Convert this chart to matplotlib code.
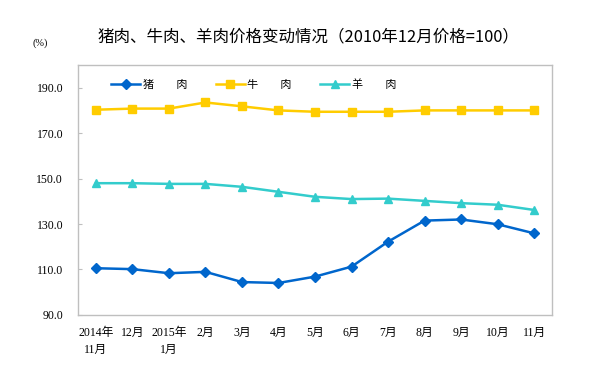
import numpy as np
import matplotlib.pyplot as plt

# 月份标签
months = ["2014年\n11月", "12月", "2015年\n1月", "2月", "3月", "4月", "5月",
          "6月", "7月", "8月", "9月", "10月", "11月"]

pork = [110.5, 110.1, 108.3, 108.9, 104.4, 104.0, 106.8, 111.2, 122.2, 131.5, 132.0, 129.9, 125.9]
beef = [180.4, 180.9, 180.9, 183.6, 181.9, 180.1, 179.5, 179.5, 179.5, 180.1, 180.1, 180.1, 180.1]
lamb = [148.0, 148.0, 147.7, 147.7, 146.4, 144.2, 142.0, 141.0, 141.2, 140.2, 139.2, 138.5, 136.2]

yticks = [90, 110, 130, 150, 170, 190]

cjk = ['Noto Sans CJK SC', 'DejaVu Sans']
serif = ['Liberation Serif', 'Noto Sans CJK SC']

fig = plt.figure(figsize=(6.09, 3.8), dpi=100)
ax = fig.add_axes([0.1276, 0.1718, 0.7793, 0.6564])

x = np.arange(len(months))
ax.plot(x, pork, color='#0066CC', lw=1.8, marker='D', ms=5, label='猪　　肉')
ax.plot(x, beef, color='#FFCC00', lw=1.8, marker='s', ms=6, label='牛　　肉')
ax.plot(x, lamb, color='#33CCCC', lw=1.8, marker='^', ms=6, label='羊　　肉')

ax.set_xlim(-0.5, len(months) - 0.5)
ax.set_ylim(90, 200)
ax.set_yticks(yticks)
ax.set_yticklabels([f"{v:.1f}" for v in yticks], family=serif, fontsize=8.5)
ax.set_xticks(x)
ax.set_xticklabels(months, family=serif, fontsize=8.5, linespacing=1.5)
ax.tick_params(axis='y', direction='in', length=3, width=0.8, color='#BFBFBF', pad=10.5)
ax.tick_params(axis='x', length=0, pad=9)

for s in ax.spines.values():
    s.set_color('#BFBFBF')
    s.set_linewidth(1.0)

leg = ax.legend(loc='upper left', bbox_to_anchor=(0.05, 0.985), ncol=3, frameon=False,
                prop={'family': cjk, 'size': 8}, handlelength=2.6, handletextpad=0.2,
                columnspacing=2.6)

fig.text(0.507, 0.903, "猪肉、牛肉、羊肉价格变动情况（2010年12月价格=100）",
         ha='center', va='center', family=cjk, fontsize=11.9)
fig.text(0.066, 0.887, "(%)", ha='center', va='center', family=serif, fontsize=7.5)

fig.savefig("out.png", dpi=100)
